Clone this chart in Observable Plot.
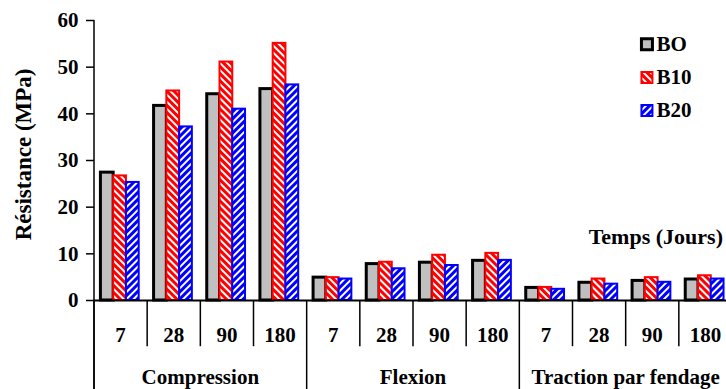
<!DOCTYPE html>
<html>
<head>
<meta charset="utf-8">
<script src="https://cdn.jsdelivr.net/npm/d3@7"></script>
<script src="https://cdn.jsdelivr.net/npm/@observablehq/plot@0.6"></script>
<style>
  html, body { margin: 0; padding: 0; background: #fff; overflow: hidden; }
  #chart svg { display: block; }
</style>
</head>
<body>
<div id="chart"></div>
<script>
// Essais mécaniques : résistance (MPa) par type d'essai et âge (jours)
const groups = ["Compression", "Flexion", "Traction par fendage"];
const days = ["7", "28", "90", "180"];
const series = ["BO", "B10", "B20"];
const valuesBO  = [27.4, 41.7, 44.2, 45.3, 4.9, 7.8, 8.1, 8.5, 2.7, 3.8, 4.2, 4.5];
const valuesB10 = [26.7, 44.9, 51.1, 55.1, 4.9, 8.2, 9.7, 10.1, 2.8, 4.6, 4.9, 5.3];
const valuesB20 = [25.3, 37.2, 41.0, 46.2, 4.6, 6.8, 7.5, 8.6, 2.4, 3.5, 3.9, 4.6];
const yTicks = [0, 10, 20, 30, 40, 50, 60];
const yLabel = "Résistance (MPa)";
const xLabel = "Temps (Jours)";

const seriesValues = [valuesBO, valuesB10, valuesB20];
const seriesStyle = [
  {fill: "#c0c0c0", stroke: "#000000", strokeWidth: 3},
  {fill: "url(#hatch-b10)", stroke: "#ff0000", strokeWidth: 2},
  {fill: "url(#hatch-b20)", stroke: "#0000ff", strokeWidth: 2}
];

// one row per (essai, âge); idx is the slot along the x axis
const cells = groups.flatMap((g, gi) => days.map((d, di) => ({idx: gi * days.length + di, group: g, day: d})));
const nCells = cells.length;

// three bars side by side inside each slot
const barStart = 0.13, barWidth = 0.24;
const barMarks = series.map((s, si) => {
  const rows = cells.map((c, i) => ({...c, series: s, value: seriesValues[si][i]}));
  return Plot.rect(rows, {
    x1: d => d.idx + barStart + si * barWidth,
    x2: d => d.idx + barStart + (si + 1) * barWidth,
    y1: () => 0,
    y2: "value",
    ...seriesStyle[si]
  });
});

// table under the x axis
const tableTop = 0, dayBottom = -9.9, tableBottom = -19.1;
const innerLines = d3.range(1, nCells).filter(i => i % days.length !== 0);
const groupLines = d3.range(0, nCells + 1, days.length);

const legendMarks = series.flatMap((s, si) => [
  Plot.dot([s], {x: () => 10.40, y: () => 54.9 - si * 7.1, symbol: "square", r: 6.2, ...seriesStyle[si]}),
  Plot.text([s], {x: () => 10.58, y: () => 54.9 - si * 7.1, text: d => d, textAnchor: "start", fontSize: 21, fontWeight: "bold"})
]);

const svg = Plot.plot({
  width: 726,
  height: 389,
  marginLeft: 94,
  marginRight: 0,
  marginTop: 20,
  marginBottom: 89,
  style: {fontFamily: "'Liberation Serif', 'Times New Roman', serif", fontWeight: "bold", color: "#000", background: "#fff"},
  x: {type: "linear", domain: [0, nCells], range: [93.5, 731.5], axis: null},
  y: {domain: [0, 60], axis: null},
  marks: [
    ...barMarks,
    Plot.axisY({ticks: yTicks, tickSize: 8, tickPadding: 8, fontSize: 21, fontWeight: "bold", label: null, strokeWidth: 1.5}),
    Plot.ruleX([0], {y1: tableBottom, y2: 60, stroke: "#000", strokeWidth: 1.5}),
    Plot.ruleY([0], {x1: 0, x2: nCells, stroke: "#000", strokeWidth: 2}),
    Plot.ruleX(innerLines, {x: d => d, y1: tableTop, y2: dayBottom, stroke: "#000", strokeWidth: 1.5}),
    Plot.ruleX(groupLines, {x: d => d, y1: tableTop, y2: tableBottom, stroke: "#000", strokeWidth: 1.5}),
    Plot.text(cells, {x: d => d.idx + 0.5, y: () => -7.5, text: "day", fontSize: 21, fontWeight: "bold"}),
    Plot.text(groups, {x: (d, i) => i * days.length + days.length / 2, y: () => -16.5, text: d => d, fontSize: 21, fontWeight: "bold"}),
    Plot.text([xLabel], {x: () => 11.83, y: () => 13.7, text: d => d, textAnchor: "end", fontSize: 22, fontWeight: "bold"}),
    Plot.text([yLabel], {x: () => -1.33, y: () => 31.3, rotate: -90, text: d => d, fontSize: 23, fontWeight: "bold"}),
    ...legendMarks
  ]
});

// hatch fills for B10 (\\\) and B20 (///)
const defs = d3.select(svg).insert("defs", ":first-child");
[["hatch-b10", "#ff0000", -45], ["hatch-b20", "#0000ff", 45]].forEach(([id, color, angle]) => {
  const p = defs.append("pattern")
    .attr("id", id)
    .attr("patternUnits", "userSpaceOnUse")
    .attr("width", 5).attr("height", 5)
    .attr("patternTransform", `rotate(${angle})`);
  p.append("rect").attr("width", 5).attr("height", 5).attr("fill", color);
  p.append("rect").attr("x", 0).attr("width", 2).attr("height", 5).attr("fill", "#ffffff");
});

document.getElementById("chart").appendChild(svg);
</script>
</body>
</html>
